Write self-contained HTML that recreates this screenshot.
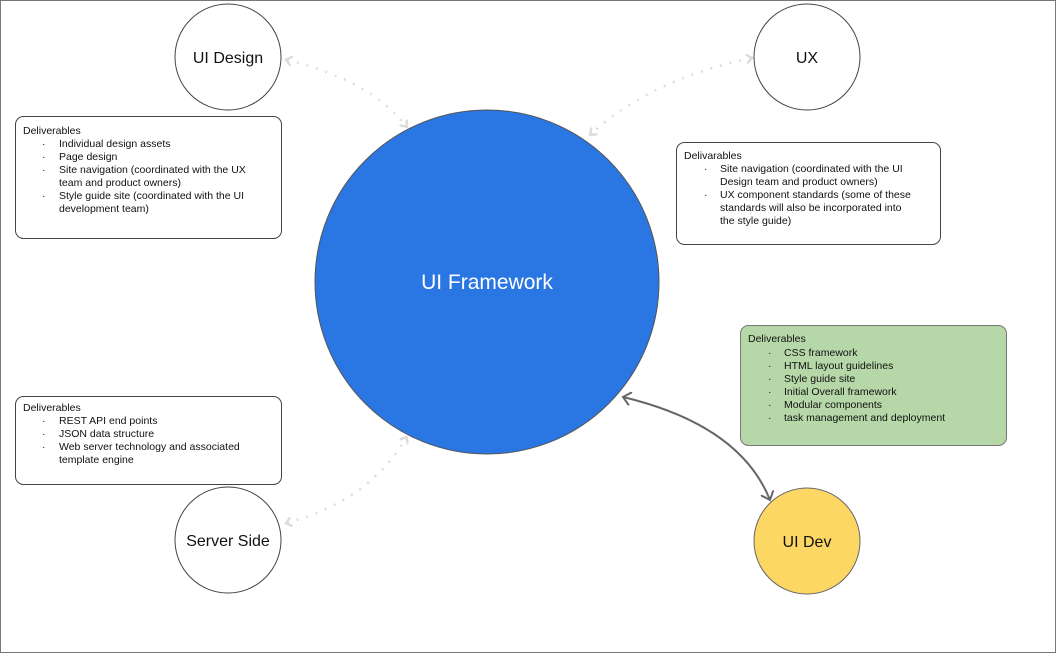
<!DOCTYPE html>
<html><head><style>
body{margin:0;width:1056px;height:653px;overflow:hidden;background:#fff}
svg text{font-family:"Liberation Sans",sans-serif;fill:#111}
.s{font-size:10.5px}
</style></head><body>
<svg width="1056" height="653" xmlns="http://www.w3.org/2000/svg">
<rect x="0.5" y="0.5" width="1055" height="652" fill="#fff" stroke="#777"/>
<defs>
<marker id="ad" markerWidth="10" markerHeight="10" refX="5" refY="5" orient="auto-start-reverse" markerUnits="userSpaceOnUse"><path d="M0,0 L6,5 L0,10" fill="none" stroke="#ddd" stroke-width="2.5"/></marker>
<marker id="as" markerWidth="14" markerHeight="14" refX="8" refY="7" orient="auto-start-reverse" markerUnits="userSpaceOnUse"><path d="M0,0 L8,7 L0,14" fill="none" stroke="#666" stroke-width="2"/></marker>
</defs>
<!-- connectors -->
<path d="M287,60 Q370,80 406,126" fill="none" stroke="#ddd" stroke-width="2.5" stroke-dasharray="2,8" marker-start="url(#ad)" marker-end="url(#ad)"/>
<path d="M751,58 Q650,80 591,134" fill="none" stroke="#ddd" stroke-width="2.5" stroke-dasharray="2,8" marker-start="url(#ad)" marker-end="url(#ad)"/>
<path d="M287,523 Q370,500 406,438" fill="none" stroke="#ddd" stroke-width="2.5" stroke-dasharray="2,8" marker-start="url(#ad)" marker-end="url(#ad)"/>
<path d="M623,397 Q740,425 770,500" fill="none" stroke="#666" stroke-width="2" marker-start="url(#as)" marker-end="url(#as)"/>
<!-- circles -->
<circle cx="228" cy="57" r="53" fill="#fff" stroke="#444"/>
<text x="228" y="63" font-size="16" text-anchor="middle">UI Design</text>
<circle cx="807" cy="57" r="53" fill="#fff" stroke="#444"/>
<text x="807" y="63" font-size="16" text-anchor="middle">UX</text>
<circle cx="487" cy="282" r="172" fill="#2a76e3" stroke="#555"/>
<text x="487" y="289" font-size="21" text-anchor="middle" style="fill:#fff">UI Framework</text>
<circle cx="228" cy="540" r="53" fill="#fff" stroke="#444"/>
<text x="228" y="546" font-size="16" text-anchor="middle">Server Side</text>
<circle cx="807" cy="541" r="53" fill="#fdd764" stroke="#666"/>
<text x="807" y="547" font-size="16" text-anchor="middle">UI Dev</text>
<!-- boxes -->
<rect x="15.5" y="116.5" width="266" height="122" rx="8" fill="#fff" stroke="#444"/>
<g class="s">
<text x="23" y="134">Deliverables</text>
<text x="42" y="147">·</text><text x="59" y="147">Individual design assets</text>
<text x="42" y="160">·</text><text x="59" y="160">Page design</text>
<text x="42" y="173">·</text><text x="59" y="173">Site navigation (coordinated with the UX</text>
<text x="59" y="186">team and product owners)</text>
<text x="42" y="199">·</text><text x="59" y="199">Style guide site (coordinated with the UI</text>
<text x="59" y="212">development team)</text>
</g>
<rect x="676.5" y="142.5" width="264" height="102" rx="8" fill="#fff" stroke="#444"/>
<g class="s">
<text x="684" y="159">Delivarables</text>
<text x="704" y="172">·</text><text x="720" y="172">Site navigation (coordinated with the UI</text>
<text x="720" y="185">Design team and product owners)</text>
<text x="704" y="198">·</text><text x="720" y="198">UX component standards (some of these</text>
<text x="720" y="211">standards will also be incorporated into</text>
<text x="720" y="224">the style guide)</text>
</g>
<rect x="740.5" y="325.5" width="266" height="120" rx="8" fill="#b6d7a8" stroke="#777"/>
<g class="s">
<text x="748" y="342">Deliverables</text>
<text x="768" y="356">·</text><text x="784" y="356">CSS framework</text>
<text x="768" y="369">·</text><text x="784" y="369">HTML layout guidelines</text>
<text x="768" y="382">·</text><text x="784" y="382">Style guide site</text>
<text x="768" y="395">·</text><text x="784" y="395">Initial Overall framework</text>
<text x="768" y="408">·</text><text x="784" y="408">Modular components</text>
<text x="768" y="421">·</text><text x="784" y="421">task management and deployment</text>
</g>
<rect x="15.5" y="396.5" width="266" height="88" rx="8" fill="#fff" stroke="#444"/>
<g class="s">
<text x="23" y="411">Deliverables</text>
<text x="42" y="424">·</text><text x="59" y="424">REST API end points</text>
<text x="42" y="437">·</text><text x="59" y="437">JSON data structure</text>
<text x="42" y="450">·</text><text x="59" y="450">Web server technology and associated</text>
<text x="59" y="463">template engine</text>
</g>
</svg>
</body></html>
